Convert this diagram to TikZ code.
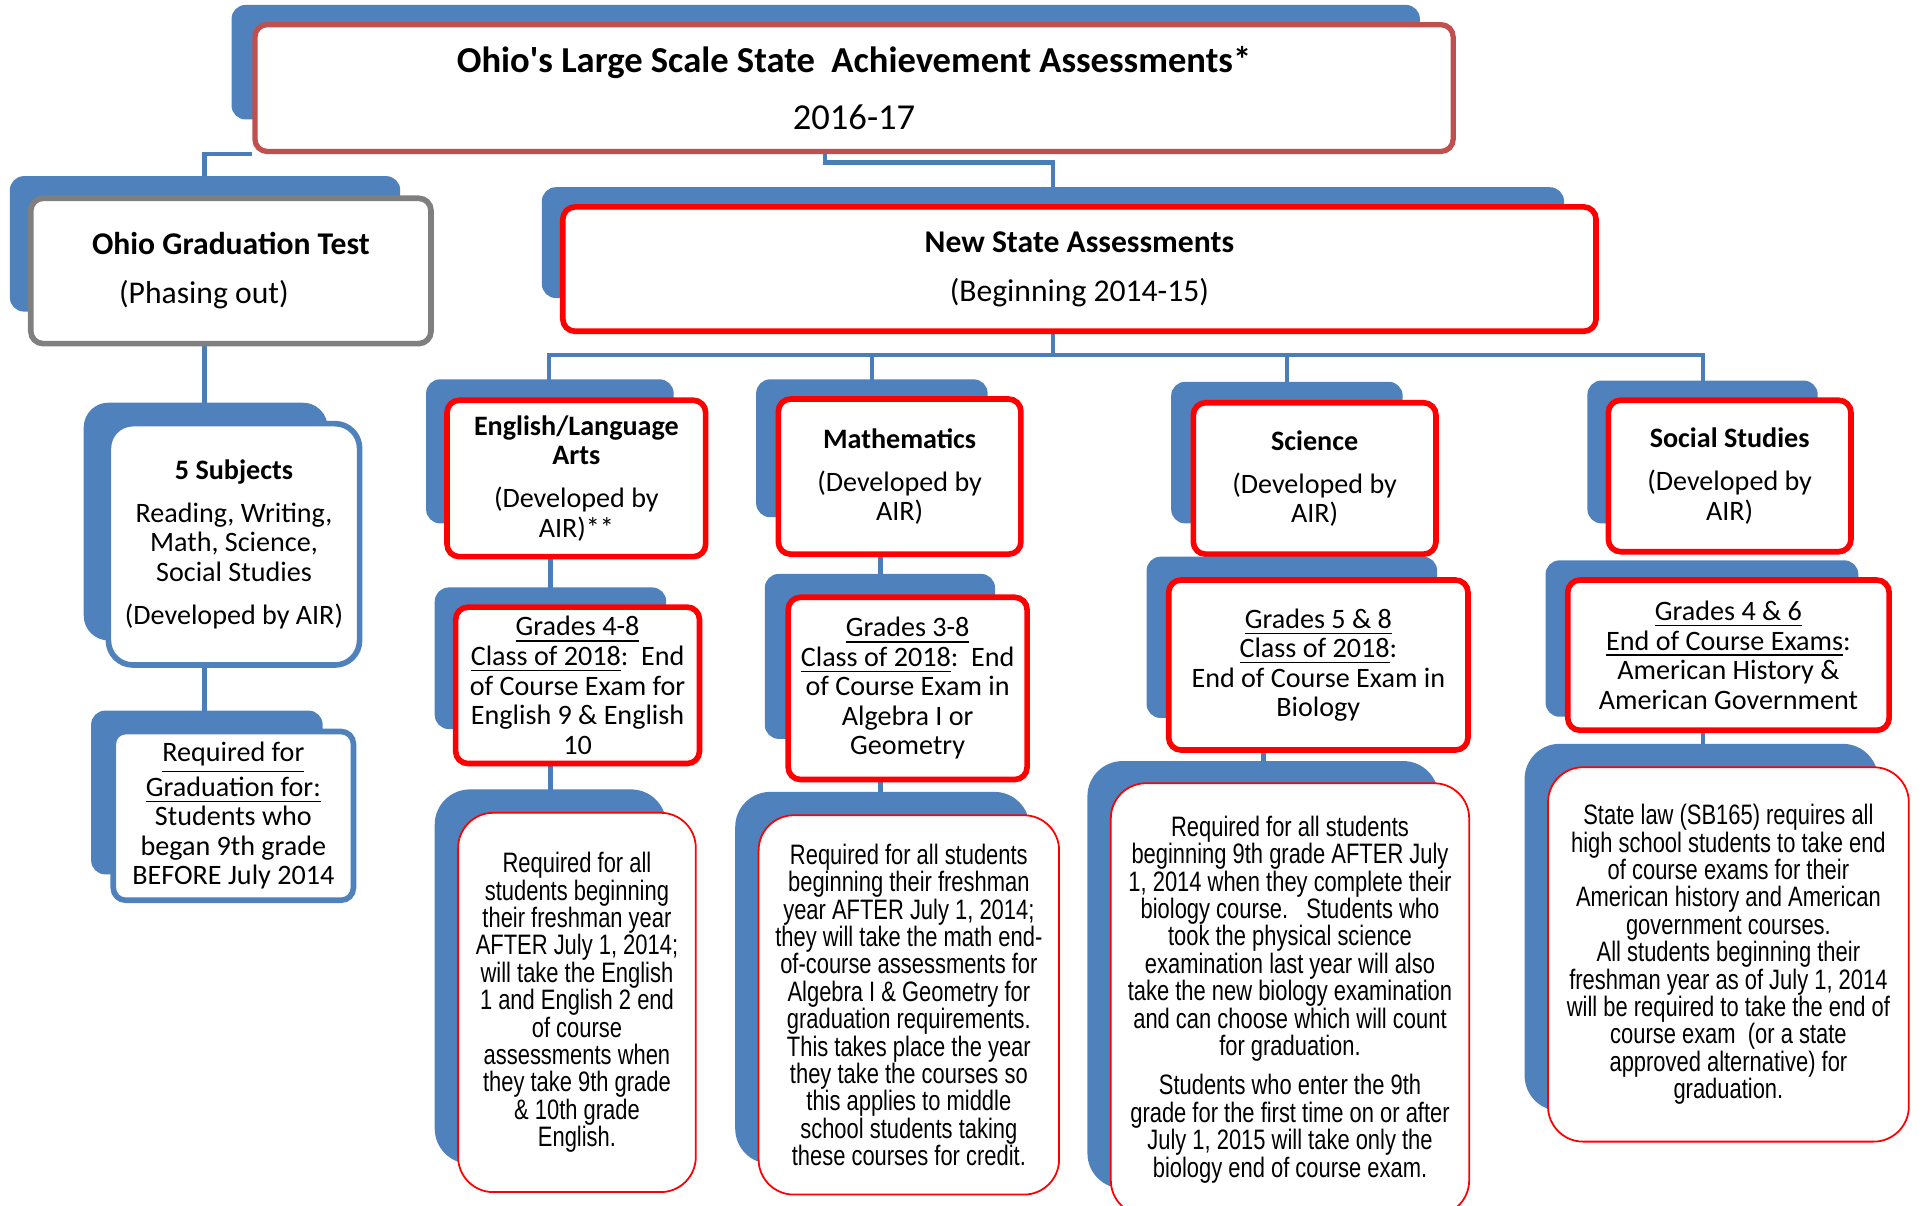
\documentclass[tikz,border=0pt]{standalone}
\usepackage{fontspec}
\setmainfont{Carlito}
\newfontfamily\narrowfont[FakeStretch=0.78]{Liberation Sans}
\usetikzlibrary{backgrounds}

\definecolor{accblue}{HTML}{4F81BD}
\definecolor{linkblue}{HTML}{4A7EBB}
\definecolor{titlered}{HTML}{C0504D}
\definecolor{boxgray}{HTML}{7F7F7F}
\newcommand{\pxu}{0.012315cm}

\begin{document}
\begin{tikzpicture}
    [x=\pxu, y=-\pxu,
    back/.style={fill=accblue, rounded corners=4pt},
    bigback/.style={fill=accblue, rounded corners=10pt},
    link/.style={draw=linkblue, line width=1.2pt},
    boxsize/.style 2 args={minimum width=#1*\pxu, minimum height=#2*\pxu},
    level/.style={rectangle, draw=red, line width=1.6pt, fill=white, rounded corners=3.5pt, align=center, inner sep=0pt, font=\fontsize{8}{8.4}\selectfont},
    note/.style={rectangle, draw=red, line width=0.5pt, fill=white, rounded corners=10pt, align=center, inner sep=0pt, font=\narrowfont\fontsize{8}{7.8}\selectfont}]
    \useasboundingbox (0,0) rectangle (1568,979);
    \clip (0,0) rectangle (1568,979);

    % top
    \fill[back] (188,4) rectangle (1153,97);
    \node[level, draw=titlered, line width=1.5pt, boxsize={973}{103}, font=\fontsize{10.4}{16.1}\selectfont] (title) at (693.5,71.5) {\textbf{Ohio\textquotesingle s Large Scale State\ \ Achievement Assessments*}\\2016-17};

    \fill[back] (8,143) rectangle (325,253);
    \node[level, draw=boxgray, boxsize={325}{118}, font=\fontsize{9}{14}\selectfont] (ogt) at (187.5,220) {\textbf{Ohio Graduation Test}\\(Phasing out)\hspace*{0.54cm}};

    \fill[back] (440,152) rectangle (1270,242);
    \node[level, boxsize={839}{101}, font=\fontsize{9}{14}\selectfont] (nsa) at (876.5,218.5) {\textbf{New State Assessments}\\(Beginning 2014-15)};

    % OGT column
    \fill[back, rounded corners=7pt] (68,327) rectangle (266,520);
    \node[level, draw=accblue, boxsize={204}{196}, rounded corners=7pt] (subj) at (190,442) {\textbf{5 Subjects}\\[3.8pt]Reading, Writing,\\Math, Science,\\Social Studies\\[3.8pt](Developed by AIR)};
    \fill[back] (74,577) rectangle (262,710);
    \node[level, draw=accblue, boxsize={195}{137}] (req) at (189.5,662.5) {\underline{Required for}\\\underline{Graduation for:}\\Students who\\began 9th grade\\BEFORE July 2014};

    % English
    \fill[back] (346,308) rectangle (547,425);
    \node[level, boxsize={210}{127}] (ela) at (468,388.5) {\textbf{English/Language}\\\textbf{Arts}\\[3.8pt](Developed by\\AIR)**};
    \fill[back] (353,477) rectangle (541,592);
    \node[level, boxsize={198}{127}] (elagr) at (469,556.5) {\underline{Grades 4-8}\\\underline{Class of 2018}:\ \ End\\of Course Exam for\\English 9 \& English\\10};
    \fill[bigback] (353,641) rectangle (541,945);
    \node[note, boxsize={193}{308}] (elanote) at (468.5,814) {Required for all\\students beginning\\their freshman year\\AFTER July 1, 2014;\\will take the English\\1 and English 2 end\\of course\\assessments when\\they take 9th grade\\\& 10th grade\\English.};

    % Mathematics
    \fill[back] (614,308) rectangle (802,420);
    \node[level, boxsize={197}{126}] (math) at (730.5,387) {\textbf{Mathematics}\\[3.8pt](Developed by\\AIR)};
    \fill[back] (621,466) rectangle (808,600);
    \node[level, boxsize={194}{148}] (mathgr) at (737,559) {\underline{Grades 3-8}\\\underline{Class of 2018}:\ \ End\\of Course Exam in\\Algebra I or\\Geometry};
    \fill[bigback] (597,643) rectangle (836,945);
    \node[note, boxsize={244}{308}] (mathnote) at (738,816) {Required for all students\\beginning their freshman\\year AFTER July 1, 2014;\\they will take the math end-\\of-course assessments for\\Algebra I \& Geometry for\\graduation requirements.\\This takes place the year\\they take the courses so\\this applies to middle\\school students taking\\these courses for credit.};

    % Science
    \fill[back] (951,310) rectangle (1139,425);
    \node[level, boxsize={197}{123}] (sci) at (1067.5,388.5) {\textbf{Science}\\[3.8pt](Developed by\\AIR)};
    \fill[back] (931,452) rectangle (1167,583);
    \node[level, boxsize={243}{138}] (scigr) at (1070.5,540) {\underline{Grades 5 \& 8}\\\underline{Class of 2018}:\\End of Course Exam in\\Biology};
    \fill[bigback] (883,618) rectangle (1168,965);
    \node[note, boxsize={291}{351}] (scinote) at (1047.5,811.5) {Required for all students\\beginning 9th grade AFTER July\\1, 2014 when they complete their\\biology course.\ \ \ Students who\\took the physical science\\examination last year will also\\take the new biology examination\\and can choose which will count\\for graduation.\\[3.4pt]Students who enter the 9th\\grade for the first time on or after\\July 1, 2015 will take only the\\biology end of course exam.};

    % Social Studies
    \fill[back] (1289,309) rectangle (1476,425);
    \node[level, boxsize={197}{123}] (soc) at (1404.5,386.5) {\textbf{Social Studies}\\[3.8pt](Developed by\\AIR)};
    \fill[back] (1255,455) rectangle (1509,582);
    \node[level, boxsize={261}{122}] (socgr) at (1403.5,532) {\underline{Grades 4 \& 6}\\\underline{End of Course Exams}:\\American History \&\\American Government};
    \fill[bigback] (1238,604) rectangle (1525,902);
    \node[note, boxsize={293}{304}] (socnote) at (1403.5,775) {State law (SB165) requires all\\high school students to take end\\of course exams for their\\American history and American\\government courses.\\All students beginning their\\freshman year as of July 1, 2014\\will be required to take the end of\\course exam\ \ (or a state\\approved alternative) for\\graduation.};

    % connectors
    \begin{scope}[on background layer]
        \draw[link] (title.south west) -| (ogt.north -| 166,0);
        \draw[link] (title.south -| 670,0) |- (855,132) -- (nsa.north -| 855,0);
        \draw[link] (ogt.south -| 166,0) -- (subj.north -| 166,0);
        \draw[link] (subj.south -| 166,0) -- (req.north -| 166,0);
        \draw[link] (nsa.south -| 855,0) -- (855,288);
        \foreach \n/\x in {ela/446,math/708,sci/1045,soc/1383}{
            \draw[link] (855,288) -| (\n.north -| \x,0);
        }
        \draw[link] (ela.south -| 447,0) -- (elagr.north -| 447,0);
        \draw[link] (elagr.south -| 447,0) -- (elanote.north -| 447,0);
        \draw[link] (math.south -| 715,0) -- (mathgr.north -| 715,0);
        \draw[link] (mathgr.south -| 715,0) -- (mathnote.north -| 715,0);
        \draw[link] (scigr.south -| 1026,0) -- (scinote.north -| 1026,0);
        \draw[link] (socgr.south -| 1383,0) -- (socnote.north -| 1383,0);
    \end{scope}
\end{tikzpicture}
\end{document}
